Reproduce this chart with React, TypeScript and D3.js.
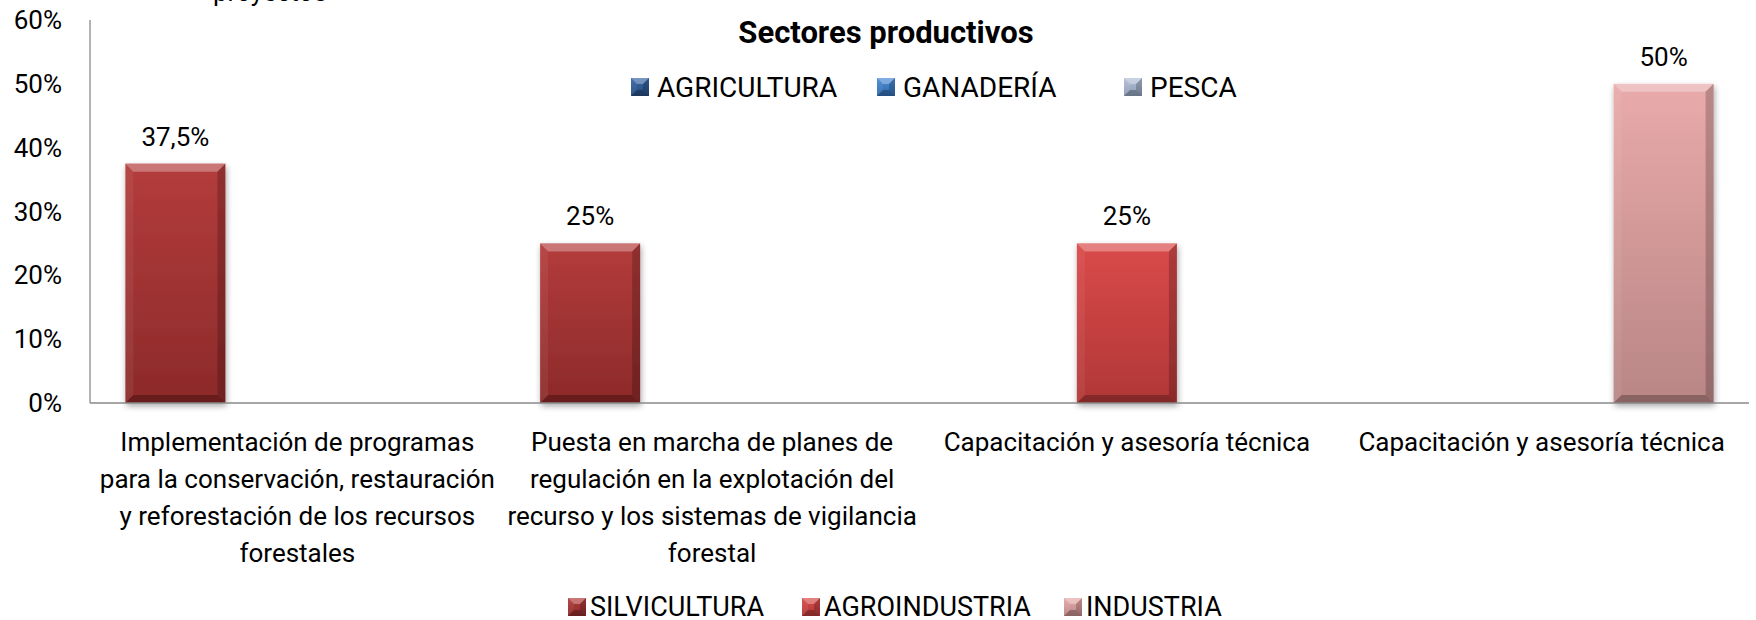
import React from 'react';
import * as d3 from 'd3';

// ---- data ----
const categoryLines: string[][] = [
  ['Implementación de programas', 'para la conservación, restauración', 'y reforestación de los recursos', 'forestales'],
  ['Puesta en marcha de planes de', 'regulación en la explotación del', 'recurso y los sistemas de vigilancia', 'forestal'],
  ['Capacitación y asesoría técnica'],
  ['Capacitación y asesoría técnica'],
];
const seriesNames = ['SILVICULTURA', 'AGROINDUSTRIA', 'INDUSTRIA'];
const silvicultura: (number | null)[] = [0.375, 0.25, null, null];
const agroindustria: (number | null)[] = [null, null, 0.25, null];
const industria: (number | null)[] = [null, null, null, 0.5];
const topLegendNames = ['AGRICULTURA', 'GANADERÍA', 'PESCA'];
const yTicks = [0, 0.1, 0.2, 0.3, 0.4, 0.5, 0.6];
const chartTitle = 'Sectores productivos';
const axisTitleFragment = 'proyectos';

// ---- styles / layout ----
const W = 1756;
const H = 620;
const FONT = 'Roboto, "Open Sans", sans-serif';
const plot = { left: 90, right: 1749, top: 20, bottom: 403 };
const seriesColors = [
  { top: '#B43C3C', bottom: '#8C2A2A' },
  { top: '#DA4A4A', bottom: '#B13737' },
  { top: '#E9AAAA', bottom: '#B98585' },
];
const topLegendColors = [
  { top: '#3A69A8', bottom: '#26497C' },
  { top: '#4A8CD6', bottom: '#2F69AD' },
  { top: '#B4C1D8', bottom: '#8C9AB4' },
];
const topLegendSlots = [631, 877, 1124];
const bottomLegendSlots = [568, 802, 1064];

const locale = d3.formatLocale({ decimal: ',', thousands: '.', grouping: [3], currency: ['', '€'] });
const fmtLabel = locale.format('.1~%');
const fmtTick = locale.format('.0%');

function Bevel({ x, y, w, h, b, id }: { x: number; y: number; w: number; h: number; b: number; id: string }) {
  const bb = Math.min(b, h / 2, w / 2);
  return (
    <g>
      <rect x={x} y={y} width={w} height={h} fill={`url(#${id})`} />
      <polygon points={`${x},${y} ${x + w},${y} ${x + w - bb},${y + bb} ${x + bb},${y + bb}`} fill="#fff" opacity={0.3} />
      <polygon points={`${x},${y} ${x + bb},${y + bb} ${x + bb},${y + h - bb} ${x},${y + h}`} fill="#fff" opacity={0.06} />
      <polygon points={`${x + w},${y} ${x + w},${y + h} ${x + w - bb},${y + h - bb} ${x + w - bb},${y + bb}`} fill="#000" opacity={0.2} />
      <polygon points={`${x},${y + h} ${x + bb},${y + h - bb} ${x + w - bb},${y + h - bb} ${x + w},${y + h}`} fill="#000" opacity={0.26} />
    </g>
  );
}

export default function App() {
  const allSeries = [silvicultura, agroindustria, industria];
  const catIdx = categoryLines.map((_, i) => String(i));
  const x0 = d3.scaleBand<string>().domain(catIdx).range([plot.left, plot.right]).paddingInner(0).paddingOuter(0);
  const x1 = d3
    .scaleBand<string>()
    .domain(seriesNames)
    .range([0, x0.bandwidth()])
    .paddingInner(0.18)
    .paddingOuter(0.29);
  const y = d3.scaleLinear().domain([0, 0.6]).range([plot.bottom, plot.top]);

  return (
    <svg width={W} height={H} style={{ position: 'absolute', left: 0, top: 0, background: '#fff' }} fontFamily={FONT}>
      <defs>
        {seriesColors.map((c, i) => (
          <linearGradient key={i} id={`g${i}`} x1="0" y1="0" x2="0" y2="1">
            <stop offset="0" stopColor={c.top} />
            <stop offset="1" stopColor={c.bottom} />
          </linearGradient>
        ))}
        {topLegendColors.map((c, i) => (
          <linearGradient key={i} id={`t${i}`} x1="0" y1="0" x2="0" y2="1">
            <stop offset="0" stopColor={c.top} />
            <stop offset="1" stopColor={c.bottom} />
          </linearGradient>
        ))}
        <filter id="shadow" x="-20%" y="-20%" width="140%" height="140%">
          <feDropShadow dx="1" dy="3" stdDeviation="3" floodColor="#000" floodOpacity="0.35" />
        </filter>
      </defs>
      <rect x={0} y={0} width={W} height={H} fill="#fff" />

      {/* cut-off axis title */}
      <text x={213} y={1} fontSize={26} fill="#000">{axisTitleFragment}</text>

      {/* y tick labels */}
      {yTicks.map((t) => (
        <text key={t} x={62} y={y(t)} textAnchor="end" dominantBaseline="central" fontSize={26} fill="#000">
          {fmtTick(t)}
        </text>
      ))}

      {/* bars */}
      {allSeries.map((vals, si) =>
        vals.map((v, ci) => {
          if (v == null) return null;
          const bx = (x0(String(ci)) as number) + (x1(seriesNames[si]) as number);
          const by = y(v);
          const bw = x1.bandwidth();
          const bh = y(0) - y(v);
          return (
            <g key={`${si}-${ci}`}>
              <g filter="url(#shadow)">
                <Bevel x={bx} y={by} w={bw} h={bh} b={8} id={`g${si}`} />
              </g>
              <text x={bx + bw / 2} y={by - 27} textAnchor="middle" dominantBaseline="central" fontSize={26} fill="#000">
                {fmtLabel(v)}
              </text>
            </g>
          );
        })
      )}

      {/* axes */}
      <line x1={plot.left} x2={plot.left} y1={plot.top} y2={plot.bottom} stroke="#8a8a8a" strokeWidth={1.3} />
      <line x1={plot.left} x2={plot.right} y1={plot.bottom} y2={plot.bottom} stroke="#8a8a8a" strokeWidth={1.3} />

      {/* category labels */}
      {categoryLines.map((lines, ci) => {
        const cx = (x0(String(ci)) as number) + x0.bandwidth() / 2;
        return (
          <text key={ci} textAnchor="middle" fontSize={26} fill="#000">
            {lines.map((ln, li) => (
              <tspan key={li} x={cx} y={plot.bottom + 39 + li * 37} dominantBaseline="central">
                {ln}
              </tspan>
            ))}
          </text>
        );
      })}

      {/* title */}
      <text x={886} y={32} textAnchor="middle" dominantBaseline="central" fontSize={31} fontWeight="bold" fill="#000">
        {chartTitle}
      </text>

      {/* top legend */}
      {topLegendNames.map((n, i) => (
        <g key={n}>
          <Bevel x={topLegendSlots[i]} y={78} w={18} h={18} b={6} id={`t${i}`} />
          <text x={topLegendSlots[i] + 26} y={87} dominantBaseline="central" fontSize={28} fill="#000">
            {n}
          </text>
        </g>
      ))}

      {/* bottom legend */}
      {seriesNames.map((n, i) => (
        <g key={n}>
          <Bevel x={bottomLegendSlots[i]} y={598} w={18} h={18} b={6} id={`g${i}`} />
          <text x={bottomLegendSlots[i] + 22} y={607} dominantBaseline="central" fontSize={27} fill="#000">
            {n}
          </text>
        </g>
      ))}
    </svg>
  );
}
